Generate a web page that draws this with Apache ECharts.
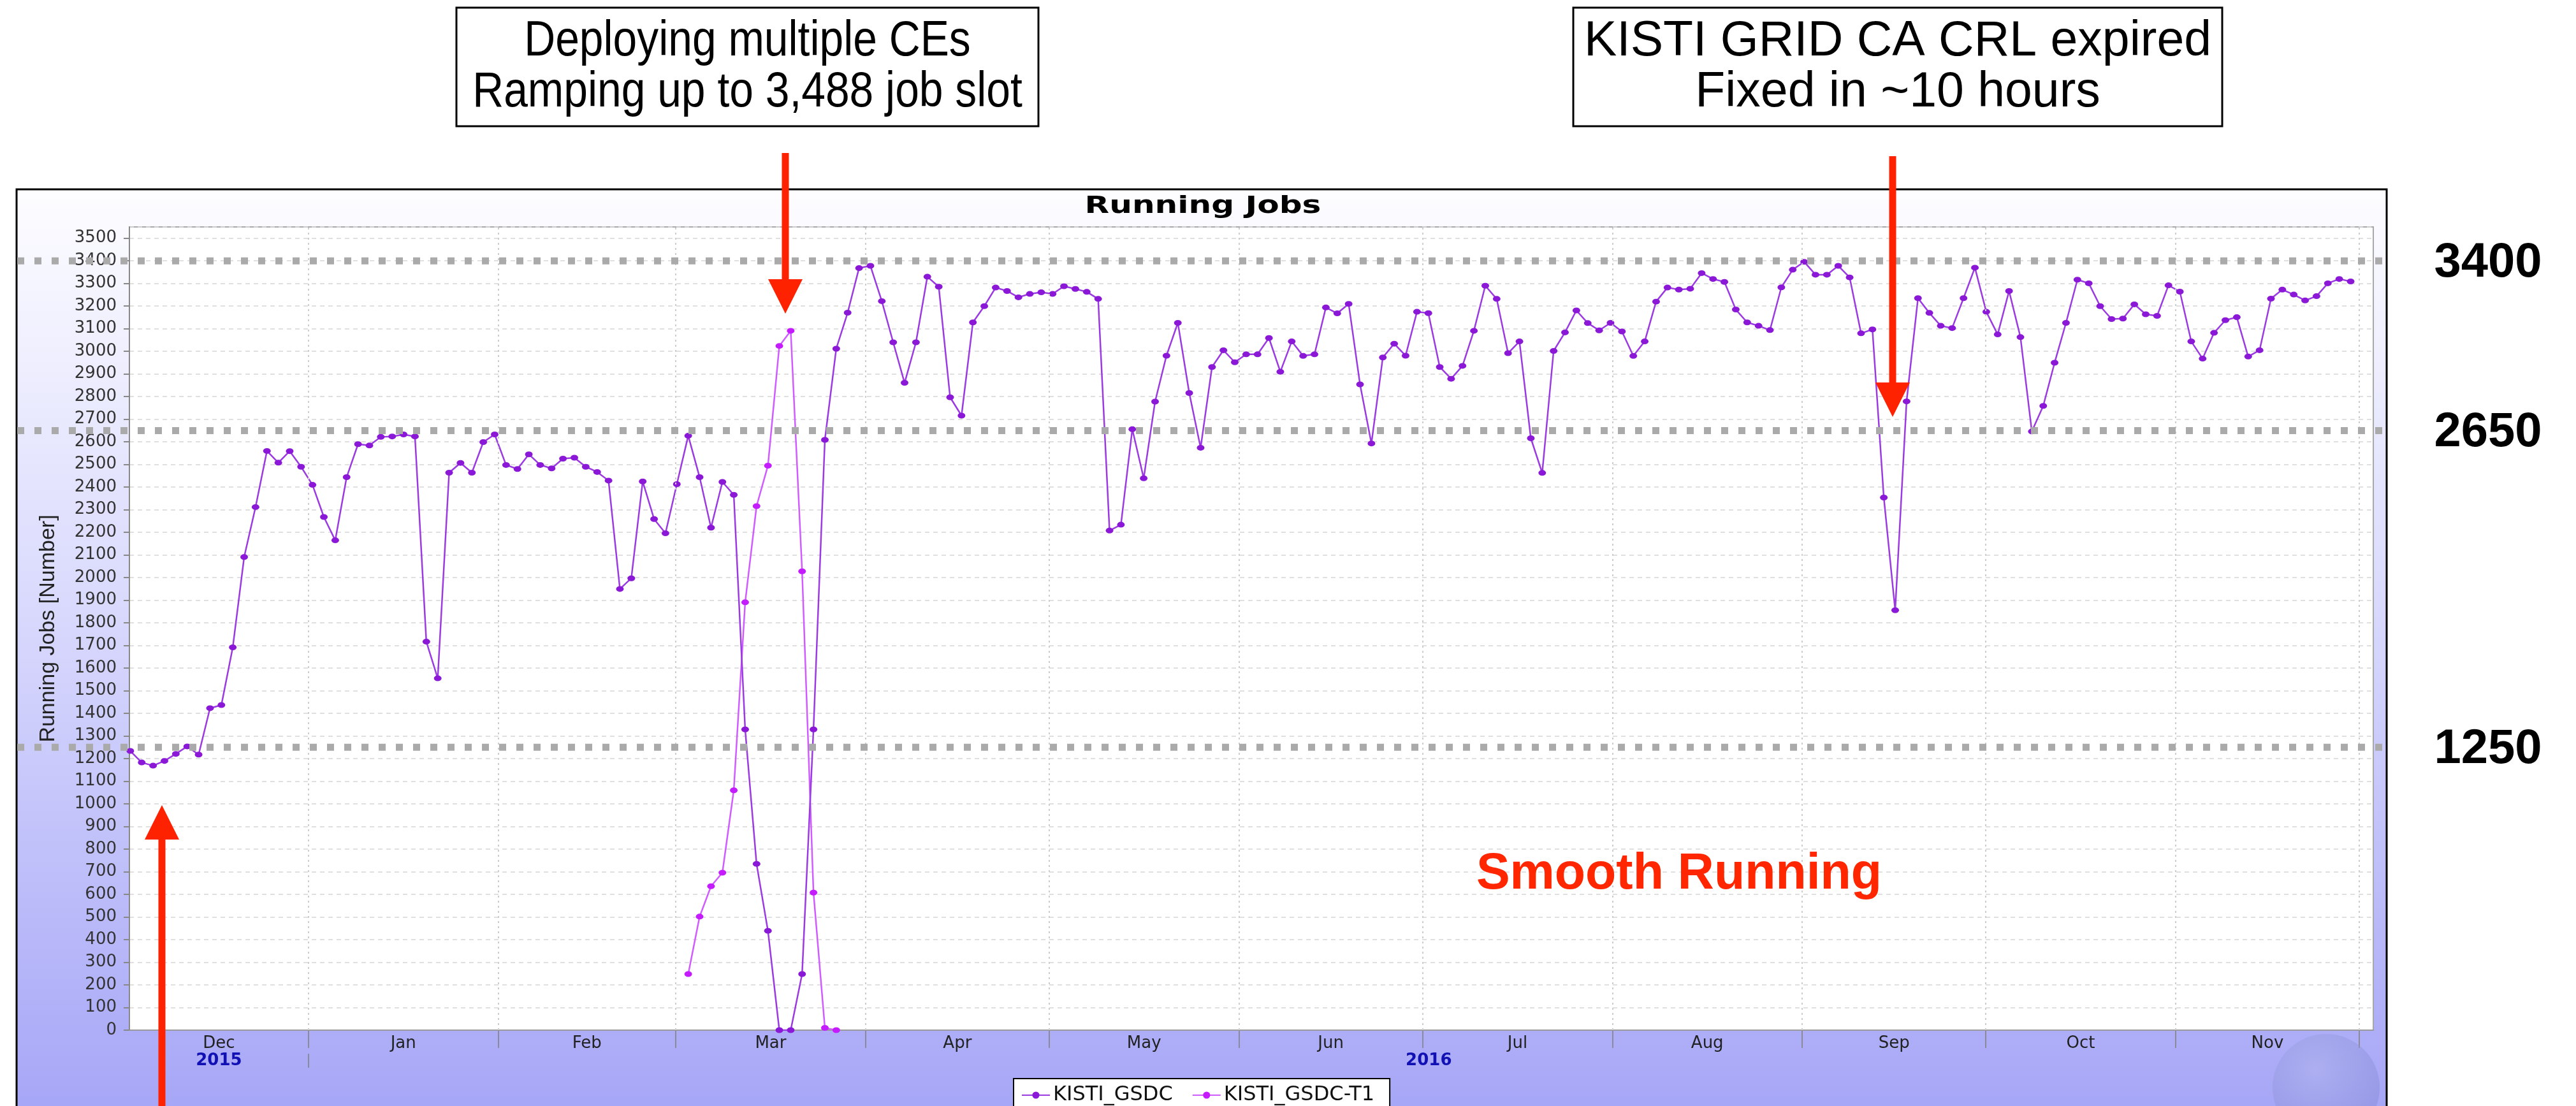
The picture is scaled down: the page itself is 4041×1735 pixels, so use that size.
<!DOCTYPE html>
<html>
<head>
<meta charset="utf-8">
<title>Running Jobs</title>
<script src="https://cdn.jsdelivr.net/npm/echarts@6/dist/echarts.min.js"></script>
<style>
  html, body { margin: 0; padding: 0; background: #fff; }
  #chart { width: 4041px; height: 1735px; }
</style>
</head>
<body>
<div id="chart"></div>
<script>
// time window of the plot and the data bins (one point per ~1.86 days)
var axisMin = Date.UTC(2015, 11, 2, 18);
var axisMax = Date.UTC(2016, 11, 3, 7);
var binStart = Date.UTC(2015, 11, 2, 21, 30);
var binHours = 44.64;

// KISTI_GSDC running jobs
var gsdcJobs = [
  1234, 1183, 1169, 1190, 1221, 1254, 1218, 1423, 1437, 1692,
  2091, 2312, 2560, 2508, 2559, 2490, 2410, 2268, 2165, 2444,
  2590, 2584, 2622, 2624, 2633, 2624, 1717, 1555, 2464, 2507,
  2464, 2599, 2633, 2498, 2480, 2545, 2498, 2483, 2526, 2530,
  2490, 2467, 2429, 1950, 1997, 2425, 2259, 2196, 2413, 2627,
  2444, 2221, 2423, 2366, 1329, 735, 439, 0, 0, 248,
  1329, 2609, 3012, 3171, 3368, 3378, 3222, 3040, 2861, 3040,
  3330, 3286, 2797, 2716, 3128, 3200, 3282, 3267, 3239, 3254,
  3261, 3254, 3288, 3276, 3263, 3232, 2208, 2234, 2656, 2439,
  2778, 2981, 3126, 2816, 2574, 2931, 3005, 2952, 2987, 2987,
  3059, 2910, 3044, 2980, 2987, 3194, 3168, 3210, 2854, 2593,
  2973, 3034, 2981, 3175, 3169, 2931, 2879, 2936, 3091, 3290,
  3232, 2992, 3044, 2616, 2463, 3002, 3084, 3181, 3125, 3093,
  3126, 3088, 2980, 3044, 3220, 3282, 3273, 3277, 3346, 3320,
  3307, 3185, 3128, 3113, 3094, 3283, 3361, 3396, 3339, 3339,
  3378, 3327, 3080, 3097, 2354, 1856, 2779, 3235, 3170, 3113,
  3103, 3235, 3370, 3175, 3075, 3267, 3063, 2646, 2759, 2950,
  3126, 3317, 3301, 3200, 3143, 3145, 3208, 3164, 3157, 3292,
  3264, 3044, 2968, 3082, 3138, 3151, 2977, 3005, 3233, 3273,
  3251, 3225, 3244, 3301, 3320, 3309
];

// KISTI_GSDC-T1 only ran around the CE migration in March
var t1FirstBin = 49;
var t1Jobs = [248, 502, 636, 696, 1060, 1891, 2316, 2495, 3024, 3091, 2028, 608, 10, 0];

var monthLabels = ['Dec', 'Jan', 'Feb', 'Mar', 'Apr', 'May', 'Jun', 'Jul', 'Aug', 'Sep', 'Oct', 'Nov'];
var monthStarts = ['2016-01-01', '2016-02-01', '2016-03-01', '2016-04-01', '2016-05-01', '2016-06-01',
                   '2016-07-01', '2016-08-01', '2016-09-01', '2016-10-01', '2016-11-01', '2016-12-01'];
var yearLabels = ['2015', '2016'];
var thresholds = [3400, 2650, 1250];

var binMs = binHours * 3600000;
var gsdcData = gsdcJobs.map(function (v, i) { return [binStart + i * binMs, v]; });
var t1Data = t1Jobs.map(function (v, i) { return [binStart + (t1FirstBin + i) * binMs, v]; });

var monthStartMs = monthStarts.map(function (s) { return Date.parse(s + 'T00:00:00Z'); });
var bounds = [axisMin].concat(monthStartMs);
var labelAt = {};
var monthMids = monthLabels.map(function (m, i) {
  var t = Math.round((bounds[i] + bounds[i + 1]) / 2);
  labelAt[t] = m;
  return t;
});
var yearMids = [
  Math.round((axisMin + monthStartMs[0]) / 2),
  Math.round((Date.UTC(2016, 0, 1) + Date.UTC(2017, 0, 1)) / 2)
];
var yearAt = {};
yearMids.forEach(function (t, i) { yearAt[t] = yearLabels[i]; });

function nearest(map, v) {
  var best = '', d = Infinity;
  Object.keys(map).forEach(function (k) {
    var dd = Math.abs(+k - v);
    if (dd < d) { d = dd; best = map[k]; }
  });
  return d < 3600000 ? best : '';
}

var GSDC_COLOR = '#8a18d6';
var T1_COLOR = '#c41cff';

var chart = echarts.init(document.getElementById('chart'));

var option = {
  animation: false,
  backgroundColor: '#ffffff',
  grid: {
    left: 203, top: 356, right: 318, bottom: 119,
    show: true, backgroundColor: '#ffffff', borderColor: '#a8a8a8', borderWidth: 2,
    containLabel: false, outerBoundsMode: 'none'
  },
  legend: {
    left: 1590, top: 1692,
    backgroundColor: '#ffffff', borderColor: '#000', borderWidth: 2,
    padding: [10, 24, 40, 12],
    itemWidth: 44, itemHeight: 14, itemGap: 30,
    textStyle: { fontFamily: 'DejaVu Sans', fontSize: 32, color: '#111' },
    data: ['KISTI_GSDC', 'KISTI_GSDC-T1']
  },
  xAxis: [
    {
      type: 'value', min: axisMin, max: axisMax, scale: true,
      axisLine: { show: true, lineStyle: { color: '#999', width: 2 } },
      axisTick: { show: true, customValues: monthStartMs, length: 28, lineStyle: { color: '#8a8a9a', width: 2 } },
      axisLabel: {
        customValues: monthMids, margin: 8,
        fontFamily: 'DejaVu Sans', fontSize: 26, color: '#222',
        formatter: function (v) { return nearest(labelAt, v); }
      },
      splitLine: { show: false }
    },
    {
      type: 'value', min: axisMin, max: axisMax, scale: true, position: 'bottom', offset: 37,
      axisLine: { show: false },
      axisTick: { show: true, customValues: [monthStartMs[0]], length: 22, lineStyle: { color: '#8a8a9a', width: 2 } },
      axisLabel: {
        customValues: yearMids, margin: -2,
        fontFamily: 'DejaVu Sans', fontWeight: 'bold', fontSize: 26, color: '#1010b4',
        formatter: function (v) { return nearest(yearAt, v); }
      },
      splitLine: { show: false }
    }
  ],
  yAxis: {
    type: 'value', min: 0, max: 3550, interval: 100,
    name: 'Running Jobs [Number]', nameLocation: 'middle', nameGap: 110, nameRotate: 90,
    nameTextStyle: { fontFamily: 'Liberation Sans', fontSize: 34, color: '#222' },
    axisLine: { show: true, lineStyle: { color: '#888', width: 2 } },
    axisTick: { show: true, length: 9, lineStyle: { color: '#888', width: 2 } },
    axisLabel: {
      fontFamily: 'DejaVu Sans', fontSize: 26, color: '#333', margin: 20, showMaxLabel: false,
      formatter: function (v) { return String(v); }
    },
    splitLine: { show: true, lineStyle: { color: '#d6d6d6', width: 1.5, type: [7, 6] } }
  },
  series: [
    {
      name: 'KISTI_GSDC', type: 'line', xAxisIndex: 0,
      data: gsdcData,
      symbol: 'circle', symbolSize: [12, 9], showAllSymbol: true,
      lineStyle: { color: '#9a3ae0', width: 2.5 },
      itemStyle: { color: GSDC_COLOR },
      markLine: {
        silent: true, symbol: ['none', 'none'], label: { show: false },
        lineStyle: { color: '#cdcdcd', width: 2, type: [3, 5] },
        data: monthStartMs.map(function (t) { return { xAxis: t }; })
      },
      z: 3
    },
    {
      name: 'KISTI_GSDC-T1', type: 'line', xAxisIndex: 0,
      data: t1Data,
      symbol: 'circle', symbolSize: [12, 9], showAllSymbol: true,
      lineStyle: { color: '#d05cff', width: 2.5 },
      itemStyle: { color: T1_COLOR },
      z: 2
    }
  ]
};

chart.setOption(option);

// slide annotations drawn on top of the chart
function text(x, y, str, size, weight, color, family, scaleX) {
  return {
    type: 'text', x: x, y: y, z: 60, scaleX: scaleX || 1,
    style: {
      text: str, fontSize: size, fontWeight: weight, fontFamily: family, fill: color,
      align: 'center', verticalAlign: 'middle', textAlign: 'center', textVerticalAlign: 'middle'
    }
  };
}

function arrowDown(x, y0, tip) {
  return [
    { type: 'rect', z: 70, shape: { x: x - 5.5, y: y0, width: 11, height: tip - 50 - y0 }, style: { fill: '#ff2200' } },
    { type: 'polygon', z: 70, shape: { points: [[x - 27, tip - 54], [x + 27, tip - 54], [x, tip]] }, style: { fill: '#ff2200' } }
  ];
}

function arrowUp(x, tip, y1) {
  return [
    { type: 'rect', z: 70, shape: { x: x - 5.5, y: tip + 50, width: 11, height: y1 - tip - 50 }, style: { fill: '#ff2200' } },
    { type: 'polygon', z: 70, shape: { points: [[x - 27, tip + 54], [x + 27, tip + 54], [x, tip]] }, style: { fill: '#ff2200' } }
  ];
}

function box(x0, x1, y0, y1, line1, line2, squeeze) {
  var cx = (x0 + x1) / 2;
  return [
    { type: 'rect', z: 60, shape: { x: x0, y: y0, width: x1 - x0, height: y1 - y0 }, style: { fill: '#fff', stroke: '#000', lineWidth: 3 } },
    text(cx, 66, line1, 77, 'normal', '#000', 'Liberation Sans', squeeze),
    text(cx, 146, line2, 77, 'normal', '#000', 'Liberation Sans', squeeze)
  ];
}

var els = [];
els.push({
  type: 'rect', z: -10,
  shape: { x: 26, y: 297, width: 3718, height: 1500 },
  style: {
    fill: new echarts.graphic.LinearGradient(0, 0, 0, 1, [
      { offset: 0, color: '#fdfdff' },
      { offset: 0.45, color: '#d8d8fd' },
      { offset: 1, color: '#a2a2f6' }
    ]),
    stroke: '#000', lineWidth: 3
  }
});
els.push({
  type: 'circle', z: 1,
  shape: { cx: 3649, cy: 1706, r: 84 },
  style: {
    fill: new echarts.graphic.RadialGradient(0.4, 0.35, 0.75, [
      { offset: 0, color: 'rgba(175,180,235,0.5)' },
      { offset: 0.7, color: 'rgba(140,145,215,0.45)' },
      { offset: 1, color: 'rgba(120,125,200,0.35)' }
    ])
  }
});
els.push(text(1887, 324, 'Running Jobs', 38, 'bold', '#000', 'DejaVu Sans', 1.32));

thresholds.forEach(function (v) {
  var y = chart.convertToPixel({ yAxisIndex: 0 }, v);
  els.push({
    type: 'line', z: 50,
    shape: { x1: 27, y1: y, x2: 3744, y2: y },
    style: { stroke: '#aaaaaa', lineWidth: 11, lineDash: [11, 16] }
  });
  els.push(text(3903, y + 4, String(v), 76, 'bold', '#000', 'Liberation Sans'));
});

els.push(text(2634, 1372, 'Smooth Running', 79, 'bold', '#ff2600', 'Liberation Sans'));
els = els.concat(box(716, 1629, 12, 198, 'Deploying multiple CEs', 'Ramping up to 3,488 job slot', 0.88));
els = els.concat(box(2468, 3486, 12, 198, 'KISTI GRID CA CRL expired', 'Fixed in ~10 hours', 1));
els = els.concat(arrowDown(1232, 240, 492));
els = els.concat(arrowDown(2969, 245, 654));
els = els.concat(arrowUp(254, 1263, 1735));

chart.setOption({ graphic: { elements: els } });
</script>
</body>
</html>
